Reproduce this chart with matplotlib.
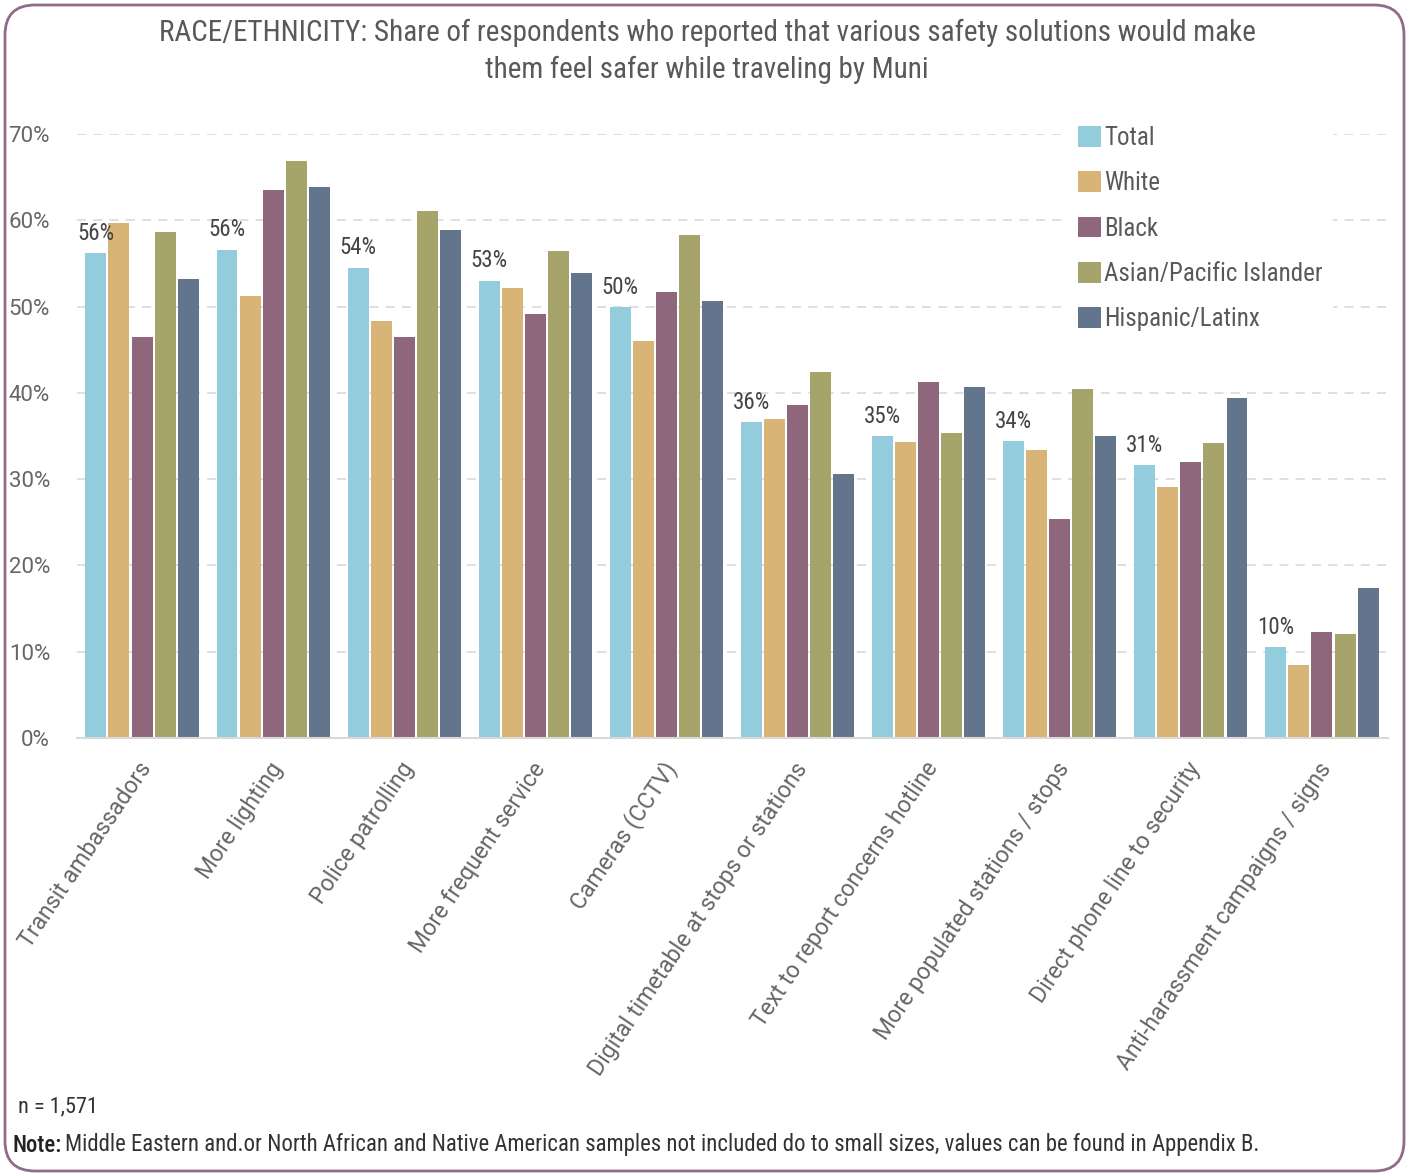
import numpy as np
import matplotlib
matplotlib.use('Agg')
import matplotlib.pyplot as plt
from matplotlib import font_manager
from matplotlib.patches import FancyBboxPatch
from matplotlib.transforms import IdentityTransform, ScaledTranslation

# ─────────────────────────────────────────────
# DATA  (share of respondents, %)
# ─────────────────────────────────────────────
categories = [
    'Transit ambassadors', 'More lighting', 'Police patrolling',
    'More frequent service', 'Cameras (CCTV)',
    'Digital timetable at stops or stations', 'Text to report concerns hotline',
    'More populated stations / stops', 'Direct phone line to security',
    'Anti-harassment campaigns / signs',
]
groups = ['Total', 'White', 'Black', 'Asian/Pacific Islander', 'Hispanic/Latinx']

total    = [56.2, 56.6, 54.5, 53.0, 49.9, 36.6, 35.0, 34.4, 31.6, 10.5]
white    = [59.7, 51.2, 48.3, 52.1, 46.0, 37.0, 34.3, 33.4, 29.1, 8.5]
black    = [46.5, 63.5, 46.5, 49.1, 51.7, 38.6, 41.3, 25.4, 32.0, 12.3]
asian    = [58.6, 66.9, 61.1, 56.4, 58.3, 42.4, 35.3, 40.4, 34.2, 12.1]
hispanic = [53.2, 63.9, 58.9, 53.9, 50.6, 30.6, 40.7, 35.0, 39.4, 17.4]
total_labels = ['56%', '56%', '54%', '53%', '50%', '36%', '35%', '34%', '31%', '10%']

series = [total, white, black, asian, hispanic]
colors = ['#93CCDC', '#D9B477', '#8E677D', '#A6A46A', '#62758D']

# ─────────────────────────────────────────────
# FONTS
# ─────────────────────────────────────────────
names = {f.name for f in font_manager.fontManager.ttflist}
COND = 'Roboto Condensed' if 'Roboto Condensed' in names else 'Roboto'
S = 1.0 if COND == 'Roboto Condensed' else 0.86
plt.rcParams['font.family'] = ['Roboto', 'DejaVu Sans']

TXT = '#595959'
TICK = '#666666'

fig = plt.figure(figsize=(14.09, 11.75), dpi=100)
ax = fig.add_axes([76.5 / 1409, 1 - 738 / 1175, 1311 / 1409, 604 / 1175])

x = np.arange(len(categories))
bw = 0.16
step = 0.176
for i, (vals, col, lbl) in enumerate(zip(series, colors, groups)):
    ax.bar(x + (i - 2) * step, vals, width=bw, color=col, label=lbl, zorder=3)

for xi, v, t in zip(x, total, total_labels):
    ax.annotate(t, (xi - 2 * step, v), textcoords='offset points', xytext=(0, 6),
                ha='center', va='bottom', fontsize=16.5 * S, family=COND,
                color='#444444', zorder=4)

ax.set_xlim(-0.5, len(categories) - 0.5)
ax.set_ylim(0, 70)
ax.set_yticks(np.arange(0, 71, 10))
ax.set_yticklabels([f'{v}%' for v in range(0, 71, 10)])
ax.set_xticks(x)
ax.set_xticklabels(categories, rotation=56, ha='right', va='center',
                   rotation_mode='anchor')
ax.tick_params(axis='both', length=0, colors=TICK)
ax.tick_params(axis='y', labelsize=16, pad=19)
ax.tick_params(axis='x', labelsize=16.6, pad=19)
shift = ScaledTranslation(5 / 100, 0, fig.dpi_scale_trans)
for lab in ax.get_xticklabels():
    lab.set_transform(lab.get_transform() + shift)

for s in ['top', 'right', 'left']:
    ax.spines[s].set_visible(False)
ax.spines['bottom'].set_color('#D9D9D9')
ax.spines['bottom'].set_linewidth(1.5)
ax.spines['bottom'].set_zorder(4)
for v in range(10, 71, 10):
    ax.axhline(v, color='#DCDCDC', linewidth=1.3, linestyle=(0, (5, 4)), zorder=1)

leg = ax.legend(loc='upper left', bbox_to_anchor=(1068 / 1409, 1 - 116 / 1175),
                bbox_transform=fig.transFigure, frameon=True,
                prop={'family': COND, 'size': 18 * S},
                handlelength=0.9, handleheight=0.9, handletextpad=0.15,
                labelspacing=0.85, borderpad=0.4, borderaxespad=0)
leg.get_frame().set_facecolor('white')
leg.get_frame().set_edgecolor('none')
leg.get_frame().set_alpha(1)
for t in leg.get_texts():
    t.set_color(TXT)

fig.text(707 / 1409, 1 - 51 / 1175,
         'RACE/ETHNICITY: Share of respondents who reported that various safety solutions would make\n'
         'them feel safer while traveling by Muni',
         ha='center', va='center', fontsize=21 * S, family=COND, color=TXT,
         linespacing=1.4)

fig.text(18 / 1409, 1 - 1107 / 1175, 'n = 1,571', ha='left', va='center',
         fontsize=16 * S, family=COND, color='#333333')
note_a = fig.text(12 / 1409, 1 - 1145 / 1175, 'Note:', ha='left', va='center',
                  fontsize=16.4 * S, family=COND, color='#222222', fontweight='medium')
fig.canvas.draw()
bb = note_a.get_window_extent()
fig.text(bb.x1 / 1409 + 4 / 1409, 1 - 1145 / 1175,
         'Middle Eastern and.or North African and Native American samples not included do to '
         'small sizes, values can be found in Appendix B.',
         ha='left', va='center', fontsize=16.4 * S, family=COND, color='#333333')

border = FancyBboxPatch((5, 4), 1399, 1166, boxstyle='round,pad=0,rounding_size=30',
                        transform=IdentityTransform(), fill=False,
                        edgecolor='#8F6C8A', linewidth=2)
fig.add_artist(border)

fig.savefig('out.png', dpi=100)
